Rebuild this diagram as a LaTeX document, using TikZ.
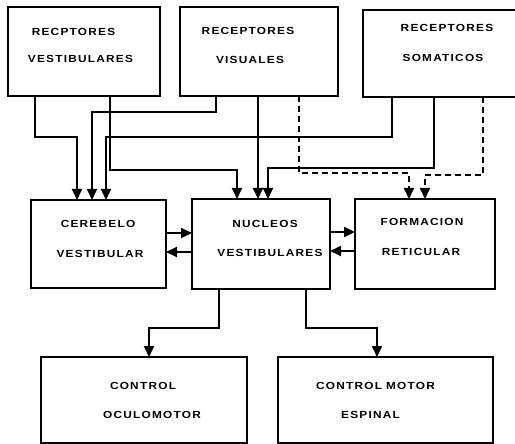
\documentclass[tikz,border=0pt]{standalone}
\usepackage{fontspec}
\setmainfont[LetterSpace=12,FakeStretch=1.15]{Liberation Sans}
\usetikzlibrary{arrows.meta}
\tikzset{
  box/.style={draw, line width=2pt, inner sep=0pt, outer sep=0pt},
  lbl/.style={font=\fontsize{10.3}{12}\selectfont\bfseries, inner sep=0pt, anchor=center},
  conn/.style={line width=1.8pt, -{Triangle[length=11pt,width=10pt]}},
  dconn/.style={conn, dash pattern=on 6pt off 4pt},
}
\begin{document}
\begin{tikzpicture}[x=1pt,y=-1pt]
\clip (0,0) rectangle (515,444);
\fill[white] (0,0) rectangle (515,444);
% boxes
\node[box, minimum width=152pt, minimum height=89pt] (rv) at (84,51.5) {};
\node[box, minimum width=158pt, minimum height=89pt] (rvis) at (259,51.5) {};
\node[box, minimum width=162pt, minimum height=87pt] (rs) at (444,53.5) {};
\node[box, minimum width=135pt, minimum height=88pt] (cv) at (98.5,244) {};
\node[box, minimum width=138pt, minimum height=90pt] (nv) at (261,244) {};
\node[box, minimum width=140pt, minimum height=90pt] (fr) at (425,244) {};
\node[box, minimum width=206pt, minimum height=86pt] (co) at (144,400) {};
\node[box, minimum width=215pt, minimum height=86pt] (cme) at (385.5,400) {};
% labels
\node[lbl] (t1) at (73.5,32) {RECPTORES};
\node[lbl] (t2) at (80.5,59) {VESTIBULARES};
\node[lbl] (t3) at (248,31) {RECEPTORES};
\node[lbl] (t4) at (250,60) {VISUALES};
\node[lbl] (t5) at (447,28) {RECEPTORES};
\node[lbl] (t6) at (443,58) {SOMATICOS};
\node[lbl] (t7) at (98,224) {CEREBELO};
\node[lbl] (t8) at (100,254) {VESTIBULAR};
\node[lbl] (t9) at (265,224) {NUCLEOS};
\node[lbl] (t10) at (270,253) {VESTIBULARES};
\node[lbl] (t11) at (422,222) {FORMACION};
\node[lbl] (t12) at (421,252) {RETICULAR};
\node[lbl] (t13) at (143,386) {CONTROL};
\node[lbl] (t14) at (152,415) {OCULOMOTOR};
\node[lbl] (t15) at (375.5,386) {CONTROL\hspace{4pt}MOTOR};
\node[lbl] (t16) at (370.5,415) {ESPINAL};
% connectors from receptors
\draw[conn] ([xshift=27pt]rv.south west) |- (77,137) -- ([xshift=46pt]cv.north west);
\draw[conn] ([xshift=102pt]rv.south west) |- (237,170) -- ([xshift=45pt]nv.north west);
\draw[conn] ([xshift=36pt]rvis.south west) |- (92,112) -- ([xshift=61pt]cv.north west);
\draw[conn] ([xshift=78pt]rvis.south west) -- ([xshift=66pt]nv.north west);
\draw[conn] ([xshift=29pt]rs.south west) |- (106,137) -- ([xshift=75pt]cv.north west);
\draw[conn] ([xshift=71pt]rs.south west) |- (268,168) -- ([xshift=76pt]nv.north west);
\draw[dconn] ([xshift=119pt]rvis.south west) |- (409,173) -- ([xshift=54pt]fr.north west);
\draw[dconn] ([xshift=120pt]rs.south west) |- (425,175) -- ([xshift=70pt]fr.north west);
% horizontal links
\draw[conn] ([yshift=11pt]cv.east) -- ([yshift=11pt]nv.west);
\draw[conn] ([yshift=-8pt]nv.west) -- ([yshift=-8pt]cv.east);
\draw[conn] ([yshift=12pt]nv.east) -- ([yshift=12pt]fr.west);
\draw[conn] ([yshift=-7pt]fr.west) -- ([yshift=-7pt]nv.east);
% outputs
\draw[conn] ([xshift=27pt]nv.south west) |- (149,328) -- ([xshift=108pt]co.north west);
\draw[conn] ([xshift=114pt]nv.south west) |- (377,328) -- ([xshift=99pt]cme.north west);
\end{tikzpicture}
\end{document}
